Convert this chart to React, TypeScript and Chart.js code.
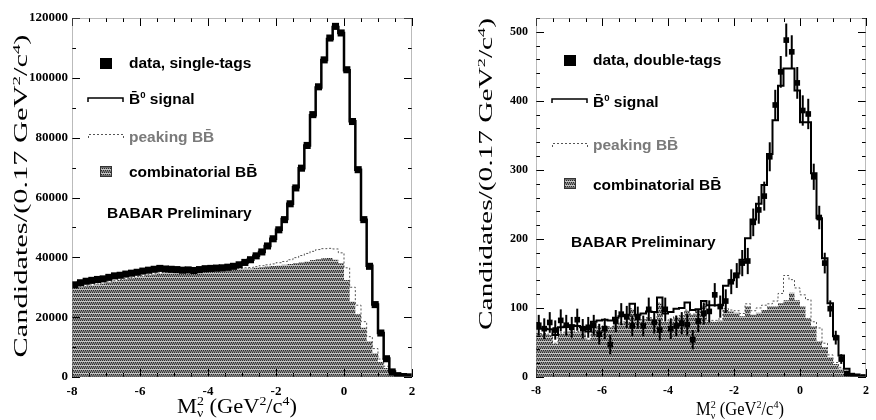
import React, { useEffect, useRef } from 'react';
import { Chart, registerables } from 'chart.js';

Chart.register(...registerables);

// ---------- binning ----------
const BIN_LOW = -8;
const BIN_HIGH = 2;
const N_BINS = 60;

// ---------- left panel: single tags ----------
const singleData = [
  30800, 31500, 32000, 32300, 32600, 32800, 33300, 33800, 34000, 34400,
  34700, 35000, 35400, 35700, 36000, 36300, 36100, 36000, 35900, 35700,
  35800, 35600, 35900, 36200, 36300, 36400, 36500, 36700, 37000, 37500,
  38300, 39200, 40500, 41800, 43800, 46200, 49200, 52600, 57900, 63200,
  69800, 77400, 87700, 97000, 106000, 113300, 117200, 115000, 102700, 85400,
  69300, 52600, 37000, 24200, 14700, 6100, 1700, 450, 150, 50,
];
const singleFit = [
  31000, 31500, 31900, 32300, 32600, 32900, 33300, 33700, 34000, 34400,
  34700, 35000, 35400, 35700, 36000, 36200, 36100, 36000, 35900, 35800,
  35800, 35700, 35900, 36100, 36300, 36400, 36500, 36700, 37000, 37500,
  38300, 39200, 40500, 41800, 43800, 46200, 49200, 52800, 57900, 63400,
  69800, 77400, 87500, 96800, 106000, 113000, 117000, 115000, 102500, 85500,
  69300, 52600, 37200, 24200, 14700, 6200, 1800, 500, 150, 50,
];
const singlePeaking = [
  30000, 30200, 30500, 30800, 31100, 31400, 31800, 32200, 32600, 32900,
  33200, 33600, 33900, 34200, 34500, 34800, 35000, 35200, 35400, 35500,
  35600, 35700, 35800, 35900, 36000, 36100, 36100, 36200, 36200, 36300,
  36500, 36600, 36900, 37200, 37500, 37800, 38200, 38600, 39200, 39900,
  40600, 41300, 42000, 42600, 42900, 43000, 42800, 41500, 36500, 30000,
  24000, 18500, 13500, 9500, 6000, 3600, 1500, 500, 150, 50,
];
const singleComb = [
  29800, 30000, 30300, 30600, 30900, 31200, 31600, 32000, 32400, 32700,
  33000, 33400, 33700, 34000, 34300, 34600, 34800, 35000, 35200, 35300,
  35400, 35500, 35600, 35700, 35800, 35900, 35900, 36000, 36000, 36100,
  36200, 36300, 36500, 36700, 36900, 37100, 37300, 37500, 37800, 38000,
  38300, 38600, 39100, 39400, 39700, 39800, 39200, 38000, 32400, 25200,
  21000, 16500, 12000, 8000, 5000, 3000, 1300, 400, 100, 0,
];

// ---------- right panel: double tags ----------
const doubleData = [
  75, 70, 79, 68, 82, 75, 72, 83, 70, 72,
  75, 62, 70, 47, 81, 91, 87, 74, 86, 74,
  98, 79, 68, 98, 70, 74, 78, 76, 54, 81,
  92, 95, 119, 102, 110, 138, 147, 165, 168, 224,
  242, 262, 319, 394, 442, 488, 471, 426, 386, 381,
  290, 231, 165, 99, 57, 26, 5, 2, 1, 0,
];
const doubleErr = [
  15, 15, 15, 14, 16, 15, 15, 16, 14, 15,
  15, 15, 15, 14, 16, 16, 16, 15, 16, 15,
  17, 16, 15, 17, 15, 15, 16, 16, 14, 16,
  16, 16, 17, 16, 17, 18, 18, 19, 19, 20,
  20, 21, 21, 22, 23, 24, 24, 23, 22, 22,
  19, 17, 15, 12, 10, 7, 4, 2, 1, 1,
];
const doubleFit = [
  70, 70, 69, 61, 72, 73, 75, 74, 72, 66,
  80, 82, 83, 82, 86, 88, 90, 106, 90, 92,
  95, 94, 115, 92, 94, 99, 100, 108, 97, 98,
  110, 104, 104, 104, 132, 140, 150, 170, 201, 228,
  251, 278, 323, 372, 422, 447, 447, 415, 369, 369,
  295, 230, 172, 107, 59, 31, 12, 3, 1, 0,
];
const doublePeaking = [
  63, 63, 62, 49, 64, 65, 67, 66, 64, 55,
  71, 73, 74, 73, 77, 79, 81, 99, 81, 83,
  86, 85, 107, 81, 83, 88, 89, 97, 91, 97,
  105, 82, 82, 84, 99, 97, 96, 92, 106, 96,
  100, 104, 106, 110, 121, 147, 141, 129, 119, 112,
  80, 71, 49, 32, 21, 14, 7, 3, 1, 1,
];
const doubleComb = [
  62, 62, 61, 48, 63, 64, 66, 65, 63, 54,
  70, 72, 73, 72, 76, 78, 80, 98, 80, 82,
  85, 84, 106, 80, 82, 87, 88, 96, 90, 96,
  104, 80, 80, 82, 97, 95, 93, 88, 102, 90,
  93, 97, 102, 102, 107, 111, 122, 111, 102, 85,
  73, 52, 43, 29, 19, 12, 6, 3, 1, 1,
];

// ---------- ticks & texts ----------
const xTicks = [-8, -6, -4, -2, 0, 2];
const singleYTicks = [0, 20000, 40000, 60000, 80000, 100000, 120000];
const doubleYTicks = [0, 100, 200, 300, 400, 500];

const singleLegend = ['data, single-tags', 'B\u0304⁰ signal', 'peaking BB\u0304', 'combinatorial BB\u0304'];
const doubleLegend = ['data, double-tags', 'B\u0304⁰ signal', 'peaking BB\u0304', 'combinatorial BB\u0304'];
const preliminaryLabel = 'BABAR Preliminary';
const yTitleText = 'Candidates/(0.17 GeV²/c⁴)';
const xTitleText = 'M_ν² (GeV²/c⁴)';

const SERIF = '"Liberation Serif", "Times New Roman", serif';
const SANS = '"Liberation Sans", Arial, sans-serif';
const LEGEND_SIZE = 15.5;

// ---------- helpers ----------
const binEdges = Array.from({ length: N_BINS + 1 }, (_, k) => BIN_LOW + (k * (BIN_HIGH - BIN_LOW)) / N_BINS);
const histPoints = (vals: number[]) =>
  vals.map((v, k) => ({ x: binEdges[k], y: v })).concat([{ x: binEdges[N_BINS], y: vals[vals.length - 1] }]);
const centerPoints = (vals: number[]) => vals.map((v, k) => ({ x: (binEdges[k] + binEdges[k + 1]) / 2, y: v }));

const SUP: Record<string, string> = { '⁰': '0', '¹': '1', '²': '2', '³': '3', '⁴': '4' };
type Seg = { t: string; sup?: boolean; sub?: boolean; stack?: boolean };
function parseRich(s: string): Seg[] {
  const segs: Seg[] = [];
  let buf = '';
  const flush = () => { if (buf) { segs.push({ t: buf }); buf = ''; } };
  for (let i = 0; i < s.length; i++) {
    const ch = s[i];
    if (SUP[ch]) { flush(); segs.push({ t: SUP[ch], sup: true }); }
    else if (ch === '_') { flush(); segs.push({ t: s[i + 1], sub: true, stack: true }); i++; }
    else buf += ch;
  }
  flush();
  return segs;
}
function layoutRich(ctx: CanvasRenderingContext2D, segs: Seg[], size: number, family: string, weight: string) {
  let x = 0;
  let pending: number | null = null;
  let pendingW = 0;
  const items: any[] = [];
  for (const s of segs) {
    const fs = s.sup || s.sub ? size * 0.62 : size;
    ctx.font = `${weight} ${fs}px ${family}`;
    const w = ctx.measureText(s.t).width;
    const dy = s.sup ? -size * 0.4 : s.sub ? size * 0.22 : 0;
    if (pending !== null) {
      items.push({ t: s.t, fs, dx: pending, dy });
      x = pending + Math.max(w, pendingW);
      pending = null;
    } else {
      items.push({ t: s.t, fs, dx: x, dy });
      if (s.stack) { pending = x; pendingW = w; } else x += w;
    }
  }
  return { items, width: x };
}
function drawRich(ctx: CanvasRenderingContext2D, text: string, x: number, y: number, size: number, family: string,
  weight: string, color: string, opts: { center?: boolean; len?: number; rotate?: boolean } = {}) {
  const { items, width } = layoutRich(ctx, parseRich(text), size, family, weight);
  ctx.save();
  ctx.translate(x, y);
  if (opts.rotate) ctx.rotate(-Math.PI / 2);
  const sx = opts.len ? opts.len / width : 1;
  ctx.scale(sx, 1);
  const x0 = opts.center ? -width / 2 : 0;
  ctx.fillStyle = color;
  ctx.textBaseline = 'alphabetic';
  ctx.textAlign = 'left';
  for (const it of items) {
    ctx.font = `${weight} ${it.fs}px ${family}`;
    ctx.fillText(it.t, x0 + it.dx, it.dy);
  }
  ctx.restore();
}

function makePattern(): CanvasPattern | string {
  const c = document.createElement('canvas');
  c.width = 2; c.height = 4;
  const g = c.getContext('2d');
  if (!g) return '#858585';
  const rows = [['#2a2a2a', '#9a9a9a'], ['#c6c6c6', '#c6c6c6'], ['#9a9a9a', '#2a2a2a'], ['#6c6c6c', '#6c6c6c']];
  rows.forEach((r, y) => r.forEach((col, x) => { g.fillStyle = col; g.fillRect(x, y, 1, 1); }));
  const p = g.createPattern(c, 'repeat');
  return p || '#858585';
}

// ---------- panels ----------
const panels = [
  {
    key: 'single', left: 0, data: singleData, err: null as number[] | null, fit: singleFit, peak: singlePeaking, comb: singleComb,
    yMax: 120000, yTicks: singleYTicks, yMajor: 20000, yMinor: 10000, legend: singleLegend,
    markerRadius: 5, fitWidth: 2.5, tickFont: 13, yTickPad: 4, padRight: 26, axisWidth: 72,
    leg: { sqY: 58, base: [68, 104, 142, 177], bracketY: [98, 134], combY: 166, prelimBase: 218 },
    yTitle: { cx: 21, cy: 196, len: 323, size: 18 },
    xTitle: { cx: 237, base: 413, len: 120, size: 20 },
  },
  {
    key: 'double', left: 438, data: doubleData, err: doubleErr as number[] | null, fit: doubleFit, peak: doublePeaking, comb: doubleComb,
    yMax: 520, yTicks: doubleYTicks, yMajor: 100, yMinor: 20, legend: doubleLegend,
    markerRadius: 4, fitWidth: 2, tickFont: 12, yTickPad: 8, padRight: 3, axisWidth: 98,
    leg: { sqY: 55, base: [65, 107, 150, 190], bracketY: [99, 143], combY: 178, prelimBase: 247 },
    yTitle: { cx: 48, cy: 174, len: 312, size: 18 },
    xTitle: { cx: 302, base: 415, len: 88, size: 18 },
  },
];

type Panel = typeof panels[number];

function PanelChart({ p }: { p: Panel }) {
  const ref = useRef<HTMLCanvasElement | null>(null);
  useEffect(() => {
    const canvas = ref.current;
    if (!canvas) return;
    const pattern = makePattern();

    const decor = {
      id: 'decor',
      afterDatasetsDraw(chart: any) {
        const ctx: CanvasRenderingContext2D = chart.ctx;
        const a = chart.chartArea;
        const xs = chart.scales.x;
        const ys = chart.scales.y;
        ctx.save();
        // error bars
        if (p.err) {
          ctx.save();
          ctx.beginPath();
          ctx.rect(a.left, a.top, a.right - a.left, a.bottom - a.top);
          ctx.clip();
          ctx.strokeStyle = '#000';
          ctx.lineWidth = 2;
          p.data.forEach((v, i) => {
            const e = (p.err as number[])[i];
            if (!e) return;
            const cx = xs.getPixelForValue((binEdges[i] + binEdges[i + 1]) / 2);
            ctx.beginPath();
            ctx.moveTo(cx, ys.getPixelForValue(v - e));
            ctx.lineTo(cx, ys.getPixelForValue(v + e));
            ctx.stroke();
          });
          ctx.restore();
        }
        // frame ticks
        ctx.strokeStyle = '#000';
        ctx.lineWidth = 1;
        ctx.setLineDash([]);
        const seg = (x1: number, y1: number, x2: number, y2: number) => {
          ctx.beginPath(); ctx.moveTo(x1, y1); ctx.lineTo(x2, y2); ctx.stroke();
        };
        for (let k = 0; k <= 20; k++) {
          const v = BIN_LOW + k * 0.5;
          const px = Math.round(xs.getPixelForValue(v)) + 0.5;
          const len = k % 4 === 0 ? 8 : 4;
          seg(px, a.bottom, px, a.bottom - len);
          seg(px, a.top, px, a.top + len);
        }
        const nMinor = Math.round(p.yMax / p.yMinor);
        for (let k = 0; k <= nMinor; k++) {
          const v = k * p.yMinor;
          if (v > p.yMax) break;
          const py = Math.round(ys.getPixelForValue(v)) + 0.5;
          const len = v % p.yMajor === 0 ? 8 : 4;
          seg(a.left, py, a.left + len, py);
          seg(a.right, py, a.right - len, py);
        }
        // dotted frame
        ctx.strokeStyle = '#777';
        ctx.setLineDash([1, 1]);
        ctx.strokeRect(a.left + 0.5, a.top + 0.5, a.right - a.left - 1, a.bottom - a.top - 1);
        ctx.setLineDash([]);

        // legend
        const L = a.left;
        const g = p.leg;
        ctx.fillStyle = '#000';
        ctx.fillRect(L + 28, g.sqY, 12, 11);
        ctx.strokeStyle = '#000';
        ctx.lineWidth = 1.5;
        ctx.beginPath();
        ctx.moveTo(L + 16, g.bracketY[0] + 4); ctx.lineTo(L + 16, g.bracketY[0]);
        ctx.lineTo(L + 51, g.bracketY[0]); ctx.lineTo(L + 51, g.bracketY[0] + 4);
        ctx.stroke();
        ctx.strokeStyle = '#555';
        ctx.lineWidth = 1;
        ctx.setLineDash([2, 2]);
        ctx.beginPath();
        ctx.moveTo(L + 16.5, g.bracketY[1] + 4); ctx.lineTo(L + 16.5, g.bracketY[1] + 0.5);
        ctx.lineTo(L + 51.5, g.bracketY[1] + 0.5); ctx.lineTo(L + 51.5, g.bracketY[1] + 4);
        ctx.stroke();
        ctx.setLineDash([]);
        ctx.fillStyle = pattern as any;
        ctx.fillRect(L + 28, g.combY, 12, 11);
        ctx.strokeStyle = '#333';
        ctx.strokeRect(L + 28.5, g.combY + 0.5, 11, 10);
        const colors = ['#000', '#000', '#7a7a7a', '#000'];
        p.legend.forEach((t, i) => drawRich(ctx, t, L + 57, g.base[i], LEGEND_SIZE, SANS, 'bold', colors[i]));
        drawRich(ctx, preliminaryLabel, L + 35, g.prelimBase, LEGEND_SIZE, SANS, 'bold', '#000');

        // axis titles
        drawRich(ctx, yTitleText, p.yTitle.cx + p.yTitle.size * 0.33, p.yTitle.cy, p.yTitle.size, SERIF, 'normal', '#000',
          { center: true, len: p.yTitle.len, rotate: true });
        drawRich(ctx, xTitleText, p.xTitle.cx, p.xTitle.base, p.xTitle.size, SERIF, 'normal', '#000',
          { center: true, len: p.xTitle.len });
        ctx.restore();
      },
    };

    const tickFont = { family: SERIF, size: p.tickFont, weight: 'bold' as const };
    const chart = new Chart(canvas, {
      type: 'scatter',
      data: {
        datasets: [
          {
            label: p.legend[0], data: centerPoints(p.data), showLine: false,
            pointStyle: 'rect', pointRadius: p.markerRadius, pointBackgroundColor: '#000', pointBorderColor: '#000', pointBorderWidth: 0,
          },
          {
            label: p.legend[1], data: histPoints(p.fit), showLine: true, stepped: 'before',
            borderColor: '#000', borderWidth: p.fitWidth, pointRadius: 0, fill: false,
          },
          {
            label: p.legend[2], data: histPoints(p.peak), showLine: true, stepped: 'before',
            borderColor: '#555', borderWidth: 1, borderDash: [2, 2], pointRadius: 0, fill: false,
          },
          {
            label: p.legend[3], data: histPoints(p.comb), showLine: true, stepped: 'before',
            borderColor: 'rgba(0,0,0,0)', borderWidth: 0, pointRadius: 0, fill: 'origin', backgroundColor: pattern as any,
          },
        ] as any,
      },
      options: {
        animation: false,
        responsive: false,
        maintainAspectRatio: false,
        events: [],
        layout: { padding: { left: 0, right: p.padRight, top: 18, bottom: 0 } },
        plugins: { legend: { display: false }, tooltip: { enabled: false } },
        scales: {
          x: {
            type: 'linear', min: BIN_LOW, max: BIN_HIGH,
            afterBuildTicks: (s: any) => { s.ticks = xTicks.map((v) => ({ value: v })); },
            afterFit: (s: any) => { s.height = 43; },
            grid: { display: false, drawTicks: false },
            border: { display: false },
            ticks: { font: tickFont, color: '#000', padding: 7, maxRotation: 0, autoSkip: false, callback: (v: any) => String(v) },
          },
          y: {
            type: 'linear', min: 0, max: p.yMax,
            afterBuildTicks: (s: any) => { s.ticks = p.yTicks.map((v) => ({ value: v })); },
            afterFit: (s: any) => { s.width = p.axisWidth; },
            grid: { display: false, drawTicks: false },
            border: { display: false },
            ticks: { font: tickFont, color: '#000', padding: p.yTickPad, autoSkip: false, callback: (v: any) => String(v) },
          },
        },
      } as any,
      plugins: [decor],
    });
    return () => chart.destroy();
  }, [p]);
  return (
    <canvas ref={ref} width={438} height={420}
      style={{ position: 'absolute', left: p.left, top: 0, width: 438, height: 420 }} />
  );
}

export default function App() {
  return (
    <div style={{ position: 'fixed', left: 0, top: 0, width: 876, height: 420, background: '#fff', overflow: 'hidden' }}>
      {panels.map((p) => <PanelChart key={p.key} p={p} />)}
    </div>
  );
}
